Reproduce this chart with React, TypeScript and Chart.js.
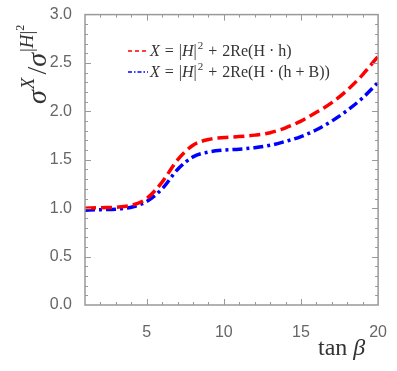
import { useEffect, useRef } from 'react';
import { Chart, registerables } from 'chart.js';

Chart.register(...registerables);

const tanBeta = [1, 2, 3, 4, 5, 6, 7, 8, 9, 10, 11, 12, 13, 14, 15, 16, 17, 18, 19, 20];
const redValues = [1.0, 1.005, 1.01, 1.03, 1.1, 1.27, 1.5, 1.65, 1.71, 1.73, 1.74, 1.755, 1.78, 1.83, 1.9, 1.99, 2.09, 2.22, 2.38, 2.57];
const blueValues = [0.98, 0.985, 0.99, 1.01, 1.07, 1.2, 1.4, 1.53, 1.58, 1.6, 1.61, 1.625, 1.65, 1.69, 1.74, 1.81, 1.9, 2.01, 2.14, 2.3];
const xTickValues = [5, 10, 15, 20];
const yTickValues = [0, 0.5, 1.0, 1.5, 2.0, 2.5, 3.0];

type Seg = { t: string; size: number; italic?: boolean; dy?: number; dx?: number };

const SERIF = '"Liberation Serif", "DejaVu Serif", serif';

function drawRich(ctx: CanvasRenderingContext2D, segs: Seg[], x: number, y: number) {
  let cx = x;
  for (const s of segs) {
    cx += s.dx || 0;
    ctx.font = `${s.italic ? 'italic ' : ''}${s.size}px ${SERIF}`;
    ctx.fillText(s.t, cx, y + (s.dy || 0));
    cx += ctx.measureText(s.t).width;
  }
  return cx;
}

const decorPlugin = {
  id: 'decor',
  afterDatasetsDraw(chart: any) {
    const ctx: CanvasRenderingContext2D = chart.ctx;
    const { left, right, top, bottom } = chart.chartArea;
    const xs = chart.scales.x;
    const ys = chart.scales.y;
    ctx.save();
    ctx.strokeStyle = '#999999';
    ctx.lineWidth = 1.5;
    ctx.strokeRect(left, top, right - left, bottom - top);
    ctx.lineWidth = 1;
    for (let v = 2; v < 20; v++) {
      const px = Math.round(xs.getPixelForValue(v)) + 0.5;
      const len = v % 5 === 0 ? 6 : 3;
      ctx.beginPath();
      ctx.moveTo(px, bottom);
      ctx.lineTo(px, bottom - len);
      ctx.moveTo(px, top);
      ctx.lineTo(px, top + len);
      ctx.stroke();
    }
    for (let i = 1; i < 30; i++) {
      const py = Math.round(ys.getPixelForValue(i / 10)) + 0.5;
      const len = i % 5 === 0 ? 6 : 3;
      ctx.beginPath();
      ctx.moveTo(left, py);
      ctx.lineTo(left + len, py);
      ctx.moveTo(right, py);
      ctx.lineTo(right - len, py);
      ctx.stroke();
    }
    ctx.restore();
  },
  afterDraw(chart: any) {
    const ctx: CanvasRenderingContext2D = chart.ctx;
    ctx.save();
    ctx.fillStyle = '#333333';
    ctx.textBaseline = 'alphabetic';
    ctx.textAlign = 'left';

    // Legend
    ctx.lineWidth = 1.5;
    ctx.strokeStyle = '#ff0000';
    ctx.setLineDash([4, 3]);
    ctx.beginPath();
    ctx.moveTo(128, 51);
    ctx.lineTo(148, 51);
    ctx.stroke();
    ctx.strokeStyle = '#0000ff';
    ctx.setLineDash([4, 2, 1.5, 2]);
    ctx.beginPath();
    ctx.moveTo(128, 72);
    ctx.lineTo(148, 72);
    ctx.stroke();
    ctx.setLineDash([]);

    const fs = 16;
    const common: Seg[] = [
      { t: 'X', size: fs, italic: true },
      { t: '=', size: fs, dx: 5 },
      { t: '|', size: fs, dx: 5 },
      { t: 'H', size: fs, italic: true },
      { t: '|', size: fs },
      { t: '2', size: 11, dy: -7, dx: 1 },
      { t: '+', size: fs, dx: 5 },
      { t: '2Re(H', size: fs, dx: 5 },
      { t: '\u00b7', size: fs, dx: 4 },
    ];
    drawRich(ctx, [...common, { t: 'h)', size: fs, dx: 4 }], 150, 56);
    drawRich(
      ctx,
      [...common, { t: '(h', size: fs, dx: 4 }, { t: '+', size: fs, dx: 4 }, { t: 'B))', size: fs, dx: 4 }],
      150,
      77
    );

    // Y axis title (rotated)
    ctx.translate(46, 104);
    ctx.rotate(-Math.PI / 2);
    const big = 28;
    drawRich(
      ctx,
      [
        { t: '\u03c3', size: big, italic: true },
        { t: 'X', size: 19, italic: true, dy: -12, dx: 1 },
        { t: '/', size: big, dx: 3 },
        { t: '\u03c3', size: big, italic: true, dx: 0 },
        { t: '|', size: 19, dy: -13, dx: 1 },
        { t: 'H', size: 19, italic: true, dy: -13 },
        { t: '|', size: 19, dy: -13 },
        { t: '2', size: 12, dy: -22 },
      ],
      0,
      0
    );
    ctx.setTransform(1, 0, 0, 1, 0, 0);

    // X axis title
    drawRich(
      ctx,
      [
        { t: 'tan', size: 24 },
        { t: '\u03b2', size: 24, italic: true, dx: 6 },
      ],
      318,
      355
    );
    ctx.restore();
  },
};

export default function App() {
  const ref = useRef<HTMLCanvasElement | null>(null);
  useEffect(() => {
    if (!ref.current) return;
    const chart = new Chart(ref.current, {
      type: 'line',
      data: {
        datasets: [
          {
            data: tanBeta.map((x, i) => ({ x, y: redValues[i] })),
            borderColor: '#ff0000',
            borderWidth: 3.5,
            borderDash: [11, 5],
            pointRadius: 0,
            fill: false,
            cubicInterpolationMode: 'monotone',
          },
          {
            data: tanBeta.map((x, i) => ({ x, y: blueValues[i] })),
            borderColor: '#0000ff',
            borderWidth: 3.5,
            borderDash: [10, 4, 3, 4],
            pointRadius: 0,
            fill: false,
            cubicInterpolationMode: 'monotone',
          },
        ],
      },
      options: {
        animation: false,
        responsive: false,
        devicePixelRatio: 1,
        layout: { padding: { top: 12, right: 18, left: 0, bottom: 0 } },
        plugins: { legend: { display: false }, tooltip: { enabled: false } },
        scales: {
          x: {
            type: 'linear',
            min: 1,
            max: 20,
            grid: { display: false },
            border: { display: false },
            afterBuildTicks: (s: any) => {
              s.ticks = xTickValues.map((v) => ({ value: v }));
            },
            afterFit: (s: any) => {
              s.height = 66;
            },
            ticks: {
              color: '#666666',
              font: { family: '"Liberation Sans", Arial, sans-serif', size: 16 },
              padding: 10,
              maxRotation: 0,
              autoSkip: false,
            },
          },
          y: {
            type: 'linear',
            min: 0,
            max: 3,
            grid: { display: false },
            border: { display: false },
            afterBuildTicks: (s: any) => {
              s.ticks = yTickValues.map((v) => ({ value: v }));
            },
            afterFit: (s: any) => {
              s.width = 85;
            },
            ticks: {
              color: '#666666',
              font: { family: '"Liberation Sans", Arial, sans-serif', size: 16 },
              padding: 5,
              autoSkip: false,
              callback: (v: any) => Number(v).toFixed(1),
            },
          },
        },
      },
      plugins: [decorPlugin],
    });
    return () => chart.destroy();
  }, []);
  return (
    <div style={{ position: 'fixed', left: 0, top: 0, width: 397, height: 371, background: '#fff' }}>
      <canvas ref={ref} width={397} height={371} />
    </div>
  );
}
